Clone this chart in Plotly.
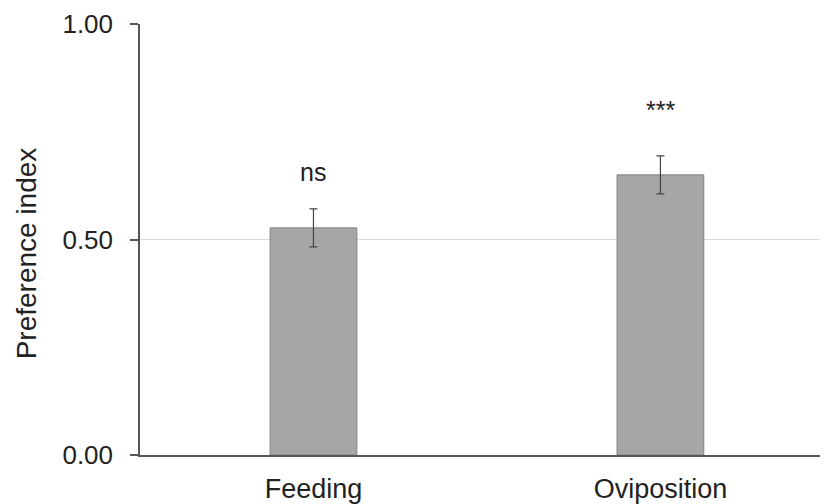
import plotly.graph_objects as go

categories = ["Feeding", "Oviposition"]
values = [0.527, 0.650]
errors = [0.044, 0.044]
sig_labels = ["ns", "***"]
sig_y = [0.657, 0.800]
y_ticks = [0.0, 0.5, 1.0]
y_title = "Preference index"

fig = go.Figure()
fig.add_trace(go.Bar(
    x=categories, y=values, width=0.25,
    marker=dict(color="#a6a6a6", line=dict(color="#808080", width=1)),
    error_y=dict(type="data", array=errors, visible=True, color="#444444", thickness=1.2, width=4),
))
for c, lab, yy in zip(categories, sig_labels, sig_y):
    fig.add_annotation(x=c, y=yy, text=lab, showarrow=False, xanchor="center", yanchor="middle",
                       font=dict(size=25, color="#222222", family="Liberation Sans, Arial"))

fig.add_annotation(xref="paper", yref="paper", x=-0.165, y=0.469, text=y_title, textangle=-90,
                   showarrow=False, xanchor="center", yanchor="middle",
                   font=dict(size=28, color="#222222", family="Liberation Sans, Arial"))

fig.update_layout(
    width=820, height=496, plot_bgcolor="white", paper_bgcolor="white",
    margin=dict(l=132, r=0, t=16, b=49, autoexpand=False), showlegend=False,
    font=dict(family="Liberation Sans, Arial", color="#222222"),
)
fig.update_xaxes(range=[-0.5, 1.483], showline=True, linecolor="#555555", linewidth=1.5,
                 ticks="", tickfont=dict(size=27), showgrid=False, automargin=False,
                 ticklabelstandoff=9)
fig.update_yaxes(range=[0, 1], tickvals=y_ticks, tickformat=".2f", showline=True, linecolor="#555555",
                 linewidth=1.5, ticks="outside", ticklen=8, tickcolor="#555555", tickwidth=1.5,
                 showgrid=True, gridcolor="#dcdcdc", gridwidth=1, zeroline=False, automargin=False,
                 ticklabelstandoff=12, tickfont=dict(size=26))
fig.write_html("out.html")
